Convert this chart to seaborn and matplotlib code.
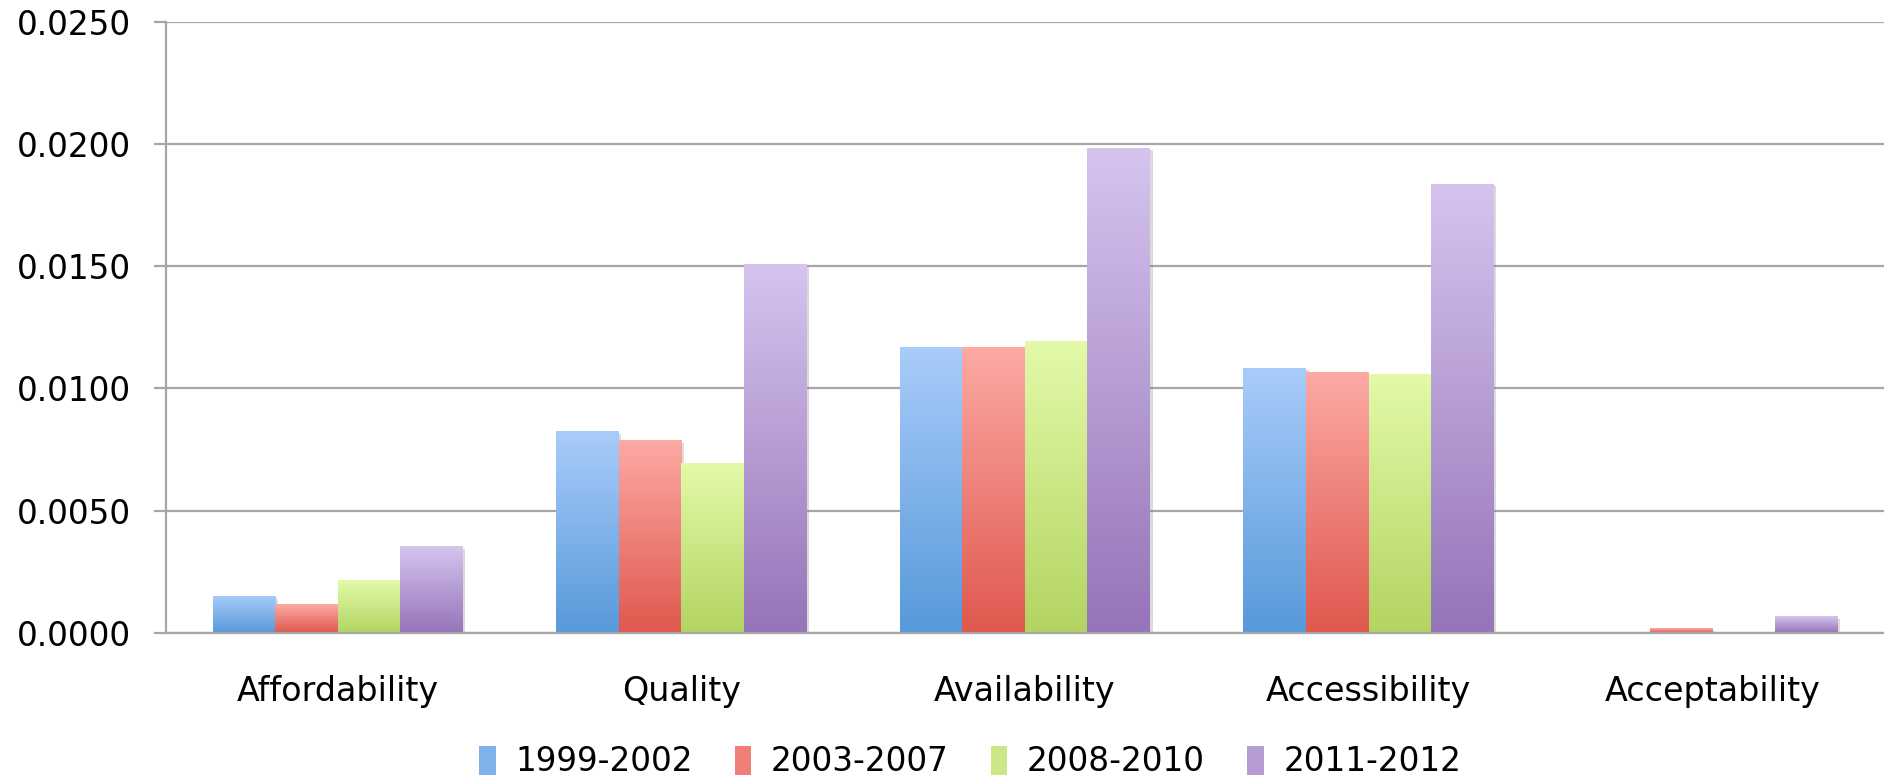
import numpy as np
import pandas as pd
import matplotlib
matplotlib.use("Agg")
import matplotlib.pyplot as plt
import matplotlib.patheffects as pe
from matplotlib.colors import to_rgb
from matplotlib.patches import Patch
import seaborn as sns

categories = ["Affordability", "Quality", "Availability", "Accessibility", "Acceptability"]
periods = ["1999-2002", "2003-2007", "2008-2010", "2011-2012"]
v_1999_2002 = [0.00152, 0.00825, 0.01168, 0.01085, 0.00004]
v_2003_2007 = [0.00118, 0.00790, 0.01168, 0.01066, 0.00020]
v_2008_2010 = [0.00215, 0.00697, 0.01193, 0.01060, 0.00000]
v_2011_2012 = [0.00354, 0.01508, 0.01984, 0.01837, 0.00068]
y_ticks = [0.0, 0.005, 0.010, 0.015, 0.020, 0.025]
y_ticklabels = ["0.0000", "0.0050", "0.0100", "0.0150", "0.0200", "0.0250"]

top_colors = ["#A9CCFA", "#FCAAA4", "#E3FAA9", "#D6C4EF"]
bottom_colors = ["#5799DA", "#DF584E", "#B3D462", "#9574B8"]
mid_colors = ["#7FB2EA", "#EE8078", "#CBE886", "#B59CD4"]

df = pd.DataFrame({
    "category": categories * 4,
    "period": [p for p in periods for _ in categories],
    "value": v_1999_2002 + v_2003_2007 + v_2008_2010 + v_2011_2012,
})

sns.set_theme(style="white")
plt.rcParams['font.family'] = ['DejaVu Sans']
plt.rcParams['text.color'] = 'black'

fig = plt.figure(figsize=(18.84, 7.79), dpi=100)
ax = fig.add_axes([0.088, 0.1874, 0.912, 0.785])

sns.barplot(data=df, x="category", y="value", hue="period", order=categories,
            hue_order=periods, palette=mid_colors, width=0.728, gap=0,
            errorbar=None, legend=False, ax=ax, saturation=1)

ax.set_ylim(0, 0.025)
ax.set_xlim(-0.5, 4.5)
ax.set_axisbelow(True)

# gradient fills clipped to each bar
for i, cont in enumerate(ax.containers):
    top = np.array(to_rgb(top_colors[i]))
    bot = np.array(to_rgb(bottom_colors[i]))
    t = np.linspace(0, 1, 256)[:, None, None]
    grad = top * (1 - t) + bot * t
    for bar in cont:
        bar.set_edgecolor("none")
        bar.set_linewidth(0)
        bar.set_path_effects([pe.SimplePatchShadow(offset=(2, -2), shadow_rgbFace="#888888", alpha=0.3), pe.Normal()])
        x0, y0 = bar.get_x(), bar.get_y()
        w, h = bar.get_width(), bar.get_height()
        if h <= 0:
            continue
        im = ax.imshow(grad, extent=(x0, x0 + w, y0, y0 + h), origin="upper",
                       aspect="auto", zorder=bar.get_zorder() + 0.1, interpolation="bilinear")
        im.set_clip_path(bar)

ax.set_ylim(0, 0.025)
ax.set_xlim(-0.5, 4.5)

grid_c = "#A6A6A6"
ax.set_yticks(y_ticks)
ax.set_yticklabels(y_ticklabels)
ax.yaxis.grid(True, color=grid_c, linewidth=1.6)
ax.xaxis.grid(False)
ax.set_xticks(range(len(categories)))
ax.set_xticklabels(categories)
ax.set_xticks(np.arange(-0.5, 5.0, 1.0), minor=True)
ax.tick_params(axis="x", which="major", length=0, pad=30, labelsize=24, labelcolor="black")
ax.tick_params(axis="x", which="minor", length=9, width=1.6, color=grid_c, direction="out")
ax.tick_params(axis="y", which="major", length=9, width=1.6, color=grid_c, direction="out",
               pad=16, labelsize=23.5, labelcolor="black", left=True)
ax.set_xlabel("")
ax.set_ylabel("")
for s in ["top", "right"]:
    ax.spines[s].set_visible(False)
ax.spines["left"].set_color(grid_c)
ax.spines["left"].set_linewidth(1.6)
ax.spines["bottom"].set_color(grid_c)
ax.spines["bottom"].set_linewidth(1.6)

handles = [Patch(facecolor=mid_colors[i], edgecolor="none") for i in range(4)]
fig.legend(handles, periods, loc="center", bbox_to_anchor=(0.515, 0.022), ncol=4,
           frameon=False, fontsize=23.5, handlelength=0.5, handleheight=1.0,
           handletextpad=0.6, columnspacing=1.3, labelcolor="black")

fig.savefig("out.png", dpi=100, facecolor="white")
